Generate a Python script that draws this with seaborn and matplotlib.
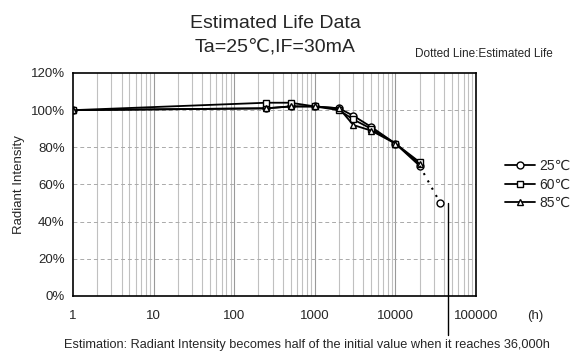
import matplotlib
matplotlib.use("Agg")
import matplotlib.pyplot as plt
import seaborn as sns
import numpy as np
import pandas as pd
from matplotlib.ticker import FixedLocator, FuncFormatter, NullFormatter

hours = [1, 250, 500, 1000, 2000, 3000, 5000, 10000, 20000]
series_labels = ["25℃", "60℃", "85℃"]
vals_25 = [100, 101, 102, 102, 101, 97, 91, 82, 70]
vals_60 = [100, 104, 104, 102, 100, 95, 90, 82, 72]
vals_85 = [100, 101, 102, 102, 101, 92, 89, 82, 71]
est_hours = [20000, 36000]
est_vals = [70, 50]
marker_hours = 45000
x_ticks = [1, 10, 100, 1000, 10000, 100000]
y_ticks = [0, 20, 40, 60, 80, 100, 120]

sns.set_theme(style="white")
plt.rcParams['font.family'] = ['Liberation Sans', 'DejaVu Sans']

fig = plt.figure(figsize=(5.79, 3.58), dpi=100)
ax = fig.add_axes([0.1261, 0.1732, 0.6961, 0.6229])

# grid
for dec in [1, 10, 100, 1000, 10000]:
    for m in range(2, 10):
        ax.axvline(dec * m, color="#c0c0c0", lw=0.8, zorder=0)
    if dec > 1:
        ax.axvline(dec, color="#999999", lw=0.8, zorder=0)
for yv in y_ticks[1:-1]:
    ax.axhline(yv, color="#aaaaaa", lw=0.7, ls=(0, (4, 3)), zorder=0)

markers = ["o", "s", "^"]
for lab, vals, mk in zip(series_labels, [vals_25, vals_60, vals_85], markers):
    df = pd.DataFrame({"h": hours, "v": vals})
    sns.lineplot(data=df, x="h", y="v", ax=ax, color="black", lw=1.3,
                 marker=mk, markersize=5, markerfacecolor="white",
                 markeredgecolor="black", markeredgewidth=1.0, label=lab)

sns.lineplot(x=est_hours, y=est_vals, ax=ax, color="black", lw=1.5,
             ls=(0, (1, 3)), legend=False)
ax.plot([est_hours[-1]], [est_vals[-1]], marker="o", ms=5, mfc="white",
        mec="black", ls="none")

ax.set_xscale("log")
ax.set_xlim(1, 100000)
ax.set_ylim(0, 120)
ax.xaxis.set_major_locator(FixedLocator(x_ticks))
ax.xaxis.set_minor_formatter(NullFormatter())
ax.xaxis.set_major_formatter(FuncFormatter(lambda v, p: f"{int(round(v))}"))
ax.set_yticks(y_ticks)
ax.yaxis.set_major_formatter(FuncFormatter(lambda v, p: f"{int(v)}%"))
ax.tick_params(axis="both", labelsize=9.5, length=0, pad=6)
ax.tick_params(axis="x", pad=10)
ax.set_xlabel("")
ax.set_ylabel("Radiant Intensity", fontsize=9.5)
for s in ax.spines.values():
    s.set_color("black")
    s.set_linewidth(1.2)

# vertical marker line
ax.plot([marker_hours, marker_hours], [50, -21], color="black", lw=1.0,
        clip_on=False)

leg = ax.legend(loc="center left", bbox_to_anchor=(1.04, 0.5), frameon=False,
                fontsize=10, handlelength=2.2, handletextpad=0.3,
                labelspacing=0.35)

fig.text(0.475, 0.935, "Estimated Life Data", ha="center", va="center", fontsize=14)
fig.text(0.475, 0.87, "Ta=25℃,IF=30mA", ha="center", va="center", fontsize=14)
fig.text(0.836, 0.848, "Dotted Line:Estimated Life", ha="center", va="center", fontsize=8.5)
fig.text(0.925, 0.118, "(h)", ha="center", va="center", fontsize=9.5)
fig.text(0.53, 0.035,
         "Estimation: Radiant Intensity becomes half of the initial value when it reaches 36,000h",
         ha="center", va="center", fontsize=9.2)

fig.savefig("out.png", dpi=100)
